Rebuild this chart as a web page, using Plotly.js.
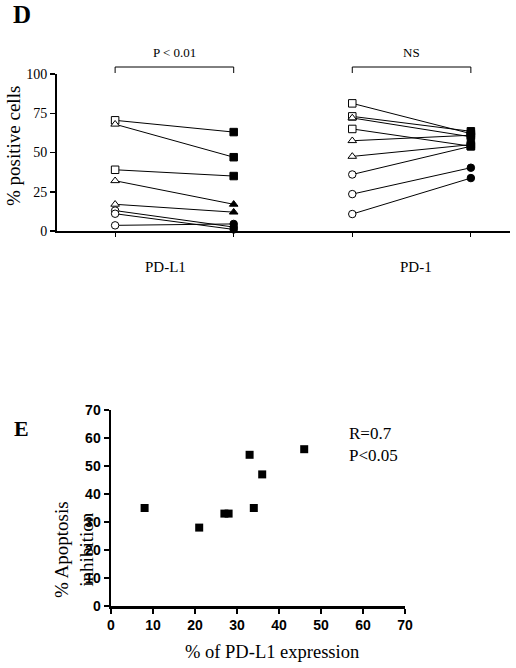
<!DOCTYPE html>
<html>
<head>
<meta charset="utf-8">
<script src="https://cdn.plot.ly/plotly-3.0.1.min.js"></script>
<style>html,body{margin:0;padding:0;background:#fff;}#chart{width:516px;height:668px;}</style>
</head>
<body>
<div id="chart"></div>
<script>
// ---- Panel D data ----
const timepoints = ['PD-L1 pre', 'PD-L1 post', 'PD-1 pre', 'PD-1 post'];
const groupLabels = ['PD-L1', 'PD-1'];
const groupStats = ['P < 0.01', 'NS'];

const pdl1Before = [70.5, 68, 39, 32, 17, 13, 11, 3.6];
const pdl1After = [63, 47, 35, 17, 12, 2.5, 1, 4.5];
const pdl1BeforeSym = ['square', 'triangle-up', 'square', 'triangle-up', 'triangle-up', 'circle', 'circle', 'circle'];
const pdl1AfterSym = ['square', 'square', 'square', 'triangle-up', 'triangle-up', 'circle', 'circle', 'circle'];

const pd1Before = [81.3, 73, 72, 65, 57.5, 47.5, 36, 23.5, 10.8];
const pd1After = [62, 63.5, 60, 54, 61, 55, 54, 40.3, 33.7];
const pd1BeforeSym = ['square', 'square', 'triangle-up', 'square', 'triangle-up', 'triangle-up', 'circle', 'circle', 'circle'];
const pd1AfterSym = ['square', 'square', 'square', 'square', 'square', 'square', 'square', 'circle', 'circle'];

const dTicks = [0, 25, 50, 75, 100];

// ---- Panel E data ----
const pdl1Expression = [8, 21, 27, 28, 33, 34, 36, 46];
const apoptosisInhibition = [35, 28, 33, 33, 54, 35, 47, 56];
const eTicks = [0, 10, 20, 30, 40, 50, 60, 70];
const statText = ['R=0.7', 'P&lt;0.05'];

const serif = 'Liberation Serif, Times New Roman, serif';
const sans = 'Liberation Sans, Arial, sans-serif';

const traces = [];
function addPairs(before, after, xPre, xPost) {
  for (let i = 0; i < before.length; i++) {
    traces.push({x: [xPre, xPost], y: [before[i], after[i]], mode: 'lines',
      line: {color: '#000', width: 1}, xaxis: 'x', yaxis: 'y', showlegend: false,
      hoverinfo: 'skip', cliponaxis: false});
  }
}
addPairs(pdl1Before, pdl1After, timepoints[0], timepoints[1]);
addPairs(pd1Before, pd1After, timepoints[2], timepoints[3]);

function markerTrace(xcat, ys, syms, filled) {
  return {x: ys.map(() => xcat), y: ys, mode: 'markers', xaxis: 'x', yaxis: 'y',
    showlegend: false, cliponaxis: false,
    marker: {symbol: syms, size: 7.5, color: filled ? '#000' : '#fff', line: {color: '#000', width: 1}}};
}
traces.push(markerTrace(timepoints[0], pdl1Before, pdl1BeforeSym, false));
traces.push(markerTrace(timepoints[1], pdl1After, pdl1AfterSym, true));
traces.push(markerTrace(timepoints[2], pd1Before, pd1BeforeSym, false));
traces.push(markerTrace(timepoints[3], pd1After, pd1AfterSym, true));

traces.push({x: pdl1Expression, y: apoptosisInhibition, mode: 'markers', xaxis: 'x2', yaxis: 'y2',
  showlegend: false, cliponaxis: false,
  marker: {symbol: 'square', size: 8, color: '#000'}});

const W = 516, H = 668;
const px = v => v / W;
const py = v => 1 - v / H;

const shapes = [];
const annotations = [];
const labelShift = [-9, 4];
[[0, 1], [2, 3]].forEach((pair, k) => {
  shapes.push({type: 'line', xref: 'x', yref: 'paper', x0: pair[0], x1: pair[1], y0: py(67), y1: py(67), line: {color: '#000', width: 1}});
  shapes.push({type: 'line', xref: 'x', yref: 'paper', x0: pair[0], x1: pair[0], y0: py(67), y1: py(73), line: {color: '#000', width: 1}});
  shapes.push({type: 'line', xref: 'x', yref: 'paper', x0: pair[1], x1: pair[1], y0: py(67), y1: py(73), line: {color: '#000', width: 1}});
  annotations.push({xref: 'x', yref: 'paper', x: (pair[0] + pair[1]) / 2, y: py(52), xanchor: 'center', yanchor: 'middle',
    text: groupStats[k], showarrow: false, font: {family: serif, size: 13, color: '#000'}});
  annotations.push({xref: 'x', yref: 'paper', x: (pair[0] + pair[1]) / 2, xshift: labelShift[k], y: py(267),
    xanchor: 'center', yanchor: 'middle', text: groupLabels[k],
    showarrow: false, font: {family: serif, size: 15, color: '#000'}});
});

const mid = {xanchor: 'center', yanchor: 'middle', showarrow: false};
annotations.push(Object.assign({xref: 'paper', yref: 'paper', x: px(22), y: py(14), text: '<b>D</b>',
  font: {family: serif, size: 25, color: '#000'}}, mid));
annotations.push(Object.assign({xref: 'paper', yref: 'paper', x: px(21), y: py(428), text: '<b>E</b>',
  font: {family: serif, size: 22, color: '#000'}}, mid));
annotations.push(Object.assign({xref: 'paper', yref: 'paper', x: px(13), y: py(146), text: '% positive cells', textangle: -90,
  font: {family: serif, size: 19, color: '#000'}}, mid));
annotations.push(Object.assign({xref: 'paper', yref: 'paper', x: px(74), y: py(550), text: '% Apoptosis<br>inhibition', textangle: -90,
  font: {family: serif, size: 19, color: '#000'}}, mid));
annotations.push({xref: 'paper', yref: 'paper', x: px(347), y: py(422), xanchor: 'left', yanchor: 'top', align: 'left',
  text: statText.join('<br>'), showarrow: false, font: {family: serif, size: 17, color: '#000'}});
annotations.push(Object.assign({xref: 'paper', yref: 'paper', x: px(272), y: py(652), text: '% of PD-L1 expression',
  font: {family: serif, size: 18.5, color: '#000'}}, mid));

const layout = {
  width: W, height: H, margin: {l: 0, r: 0, t: 0, b: 0},
  paper_bgcolor: '#fff', plot_bgcolor: 'rgba(0,0,0,0)', showlegend: false,
  xaxis: {domain: [px(57), px(510)], anchor: 'y', type: 'category', categoryorder: 'array', categoryarray: timepoints,
    range: [-0.49, 3.33], showline: true, linecolor: '#000', linewidth: 2, showgrid: false, zeroline: false,
    ticks: 'outside', ticklen: 4, tickwidth: 1, tickcolor: '#000', tickvals: timepoints, ticktext: ['', '', '', ''],
    fixedrange: true},
  yaxis: {domain: [py(231), py(74)], anchor: 'x', range: [0, 100], showline: true, linecolor: '#000', linewidth: 2,
    showgrid: false, zeroline: false, ticks: 'outside', ticklen: 5, tickwidth: 1.5, tickcolor: '#000',
    tickvals: dTicks, ticktext: dTicks.map(String), tickfont: {family: serif, size: 14, color: '#000'}, fixedrange: true},
  xaxis2: {domain: [px(111), px(405)], anchor: 'y2', range: [0, 70], showline: true, linecolor: '#000', linewidth: 2.5,
    showgrid: false, zeroline: false, ticks: 'outside', ticklen: 5, tickwidth: 2, tickcolor: '#000',
    tickvals: eTicks, ticktext: eTicks.map(String), tickfont: {family: sans, size: 14, color: '#000', weight: 'bold'}},
  yaxis2: {domain: [py(606), py(410)], anchor: 'x2', range: [0, 70], showline: true, linecolor: '#000', linewidth: 2.5,
    showgrid: false, zeroline: false, ticks: 'outside', ticklen: 5, tickwidth: 2, tickcolor: '#000',
    tickvals: eTicks, ticktext: eTicks.map(String), tickfont: {family: sans, size: 14, color: '#000', weight: 'bold'}},
  shapes: shapes,
  annotations: annotations
};

Plotly.newPlot('chart', traces, layout, {displayModeBar: false, staticPlot: true});
</script>
</body>
</html>
